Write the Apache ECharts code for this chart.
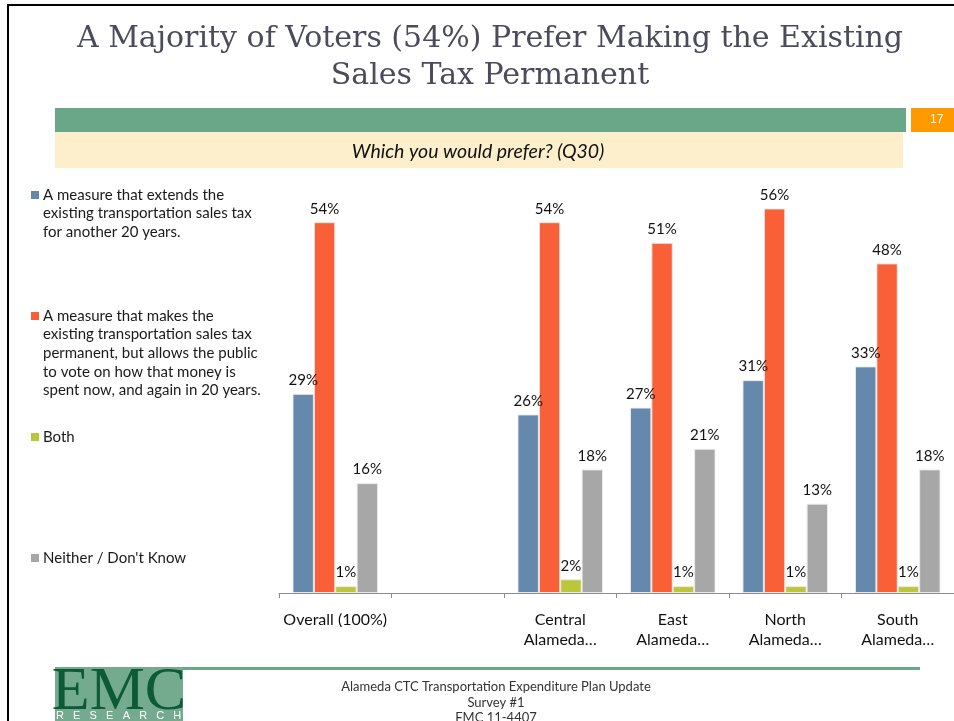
<!DOCTYPE html>
<html><head><meta charset="utf-8">
<script src="https://cdn.jsdelivr.net/npm/echarts@6/dist/echarts.min.js"></script>
<style>html,body{margin:0;padding:0;background:#fff;}#c{width:954px;height:721px;}</style>
</head><body><div id="c"></div>
<script>
const categories = ["Overall (100%)", "", "Central\nAlameda…", "East\nAlameda…", "North\nAlameda…", "South\nAlameda…"];
const seriesNames = [
  "A measure that extends the\nexisting transportation sales tax\nfor another 20 years.",
  "A measure that makes the\nexisting transportation sales tax\npermanent, but allows the public\nto vote on how that money is\nspent now, and again in 20 years.",
  "Both",
  "Neither / Don't Know"
];
const extendValues = [29, null, 26, 27, 31, 33];
const permanentValues = [54, null, 54, 51, 56, 48];
const bothValues = [1, null, 2, 1, 1, 1];
const neitherValues = [16, null, 18, 21, 13, 18];
const titleText = "A Majority of Voters (54%) Prefer Making the Existing\nSales Tax Permanent";
const subtitleText = "Which you would prefer? (Q30)";
const footerLines = ["Alameda CTC Transportation Expenditure Plan Update", "Survey #1", "FMC 11-4407"];
const pageNumber = "17";

const colors = ["#6589AD", "#FA6037", "#BCC63A", "#A7A7A7"];
const allValues = [extendValues, permanentValues, bothValues, neitherValues];
const FONT = "Lato";

const legendTops = [195, 316, 437, 558];
const legendGraphics = [];
seriesNames.forEach((name, i) => {
  legendGraphics.push({type:'rect', left:31, top:legendTops[i]-4, shape:{width:8,height:8}, style:{fill:colors[i]}});
  legendGraphics.push({type:'text', left:43, top:legendTops[i]-9.5, style:{text:name, font:'15px '+FONT, fill:'#1a1a1a', lineHeight:18.7}});
});

const chart = echarts.init(document.getElementById('c'), null, {renderer:'canvas'});
chart.setOption({
  animation:false,
  backgroundColor:'#fff',
  title:{text:titleText, left:485, top:16, textAlign:'center',
    textStyle:{fontFamily:'DejaVu Serif', fontSize:30, fontWeight:'normal', color:'#4b4b5a', lineHeight:37}},
  grid:{left:279, top:181, width:679, height:412, containLabel:false},
  xAxis:{type:'category', data:categories,
    axisLine:{lineStyle:{color:'#8c8c8c', width:1}},
    axisTick:{show:true, length:5, lineStyle:{color:'#8c8c8c'}},
    axisLabel:{margin:17, fontFamily:FONT, fontSize:16, color:'#111', lineHeight:20, interval:0}},
  yAxis:{type:'value', min:0, max:60, show:false, splitLine:{show:false}},
  series: allValues.map((vals, i) => ({
    type:'bar', name:seriesNames[i], data:vals,
    barGap:'0%', barCategoryGap:'24%',
    itemStyle:{color:colors[i], borderColor:'rgba(235,235,235,0.9)', borderWidth:1},
    label:{show:true, position:'top', distance:6, formatter:(p)=>p.value==null?'':p.value+'%',
      fontFamily:FONT, fontSize:15, color:'#111'}
  })),
  graphic:[
    {type:'rect', left:7, top:4, shape:{width:2, height:717}, style:{fill:'#000'}},
    {type:'rect', left:7, top:4, shape:{width:947, height:2}, style:{fill:'#000'}},
    {type:'rect', left:55, top:108, shape:{width:851, height:24}, style:{fill:'#6AA688'}},
    {type:'rect', left:911, top:108, shape:{width:43, height:24}, style:{fill:'#FF9900'}},
    {type:'text', left:930, top:114, style:{text:pageNumber, font:'12px Liberation Sans', fill:'#fff'}},
    {type:'rect', left:55, top:132, shape:{width:848, height:36}, style:{fill:'#FDEFCB'}},
    {type:'text', x:478, y:152, style:{text:subtitleText, font:'italic 19.5px '+FONT, fill:'#111', textAlign:'center', textVerticalAlign:'middle'}},
    ...legendGraphics,
    {type:'rect', left:183, top:667, shape:{width:737, height:3}, style:{fill:'#6AA688'}},
    {type:'rect', left:55, top:667, shape:{width:128, height:54}, style:{fill:'#74AB8E'}},
    {type:'text', x:119, y:693, style:{text:'EMC', font:'62px Liberation Serif', fill:'#0D5A36', textAlign:'center', textVerticalAlign:'middle'}},
    {type:'text', x:56, y:716, style:{text:'R   E   S   E   A   R   C   H', font:'11px Liberation Sans', fill:'#fff', textVerticalAlign:'middle'}},
    {type:'text', x:496, y:687, style:{text:footerLines[0], font:'13px '+FONT, fill:'#333', textAlign:'center', textVerticalAlign:'middle'}},
    {type:'text', x:496, y:703, style:{text:footerLines[1], font:'13px '+FONT, fill:'#333', textAlign:'center', textVerticalAlign:'middle'}},
    {type:'text', x:496, y:718, style:{text:footerLines[2], font:'13px '+FONT, fill:'#333', textAlign:'center', textVerticalAlign:'middle'}}
  ]
});
</script></body></html>
